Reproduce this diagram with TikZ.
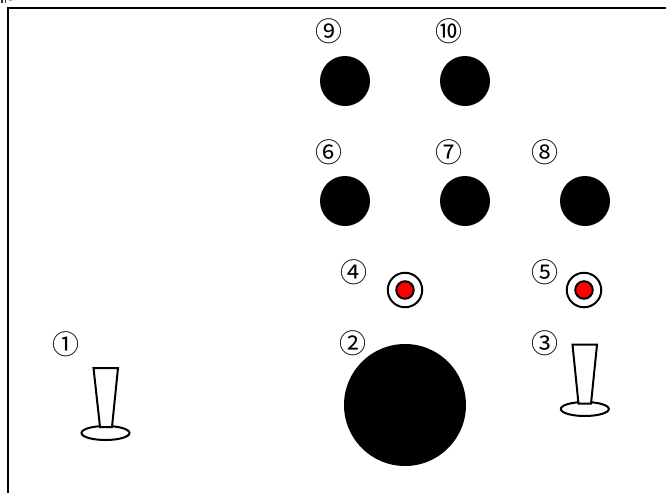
\documentclass[tikz,border=0pt]{standalone}
\usepackage{fontspec}
\newfontfamily\cjk{Noto Sans CJK JP}
\tikzset{
  blackdisc/.style={circle,fill=black,draw=none,inner sep=0pt,minimum size=#1},
  ringbtn/.style={circle,fill=white,draw=black,line width=2pt,inner sep=0pt,minimum size=34.5pt},
  reddot/.style={circle,fill=red,draw=black,line width=2pt,inner sep=0pt,minimum size=17.5pt},
  numlabel/.style={inner sep=0pt,xshift=1.5pt,font=\cjk\fontsize{27pt}{27pt}\selectfont},
  outline/.style={draw=black,line width=2pt,fill=white,line join=miter},
}
\begin{document}
\begin{tikzpicture}[x=1pt,y=-1pt]
\useasboundingbox (0,0) rectangle (666,493);
\fill[white] (0,0) rectangle (666,493);
% clipped marks above the frame
\fill[black!80] (1,0) rectangle (2.5,3);
\fill[black!80] (4.5,0) rectangle (6,3);
\fill[black!35] (9,0) rectangle (12,1);
% frame
\draw[line width=2pt] (8,493) -- (8,8) -- (666,8);
% joysticks
\draw[outline] (105.5,433) ellipse [x radius=24,y radius=7];
\draw[outline] (93.5,368) -- (118,368) -- (112,427) -- (100,427) -- cycle;
\draw[outline] (584.8,409) ellipse [x radius=24,y radius=7];
\draw[outline] (572.5,344.7) -- (597,344.7) -- (591,403.7) -- (578.5,403.7) -- cycle;
% discs
\node[blackdisc=50pt] (d9) at (345,81) {};
\node[blackdisc=50pt] (d10) at (465,81) {};
\node[blackdisc=50pt] (d6) at (345,201) {};
\node[blackdisc=50pt] (d7) at (465,201) {};
\node[blackdisc=50pt] (d8) at (585,201) {};
\node[blackdisc=122pt] (d2) at (405,405) {};
% lamps
\node[ringbtn] (r4) at (405,290) {};
\node[reddot] (l4) at (405,290) {};
\node[ringbtn] (r5) at (584,290) {};
\node[reddot] (l5) at (584,290) {};
% labels
\node[numlabel] (n1) at (64,344) {①};
\node[numlabel] (n2) at (351,343) {②};
\node[numlabel] (n3) at (543,343) {③};
\node[numlabel] (n4) at (352,272) {④};
\node[numlabel] (n5) at (543,272) {⑤};
\node[numlabel] (n6) at (327,152) {⑥};
\node[numlabel] (n7) at (447,152) {⑦};
\node[numlabel] (n8) at (543,152) {⑧};
\node[numlabel] (n9) at (327,31) {⑨};
\node[numlabel] (n10) at (447,31) {⑩};
\end{tikzpicture}
\end{document}
